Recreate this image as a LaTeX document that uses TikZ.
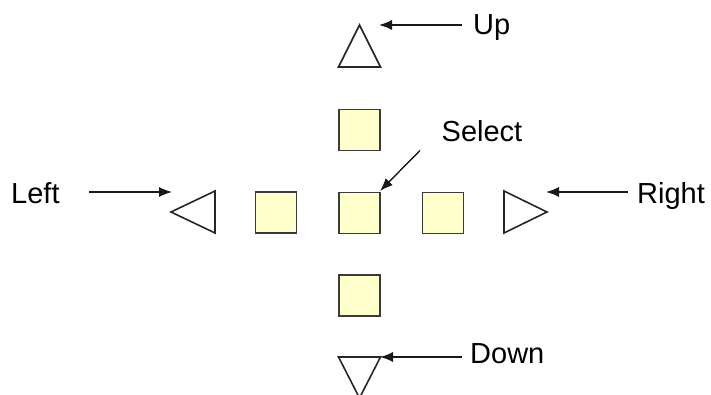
\documentclass[tikz,border=0pt]{standalone}
\usepackage{fontspec}
\setmainfont{Liberation Sans}
\usetikzlibrary{arrows.meta}
\definecolor{keyfill}{HTML}{FFFFCC}
\definecolor{keyedge}{HTML}{3A3A3A}
\begin{document}
\begin{tikzpicture}[x=1pt,y=-1pt,
  keybox/.style={draw=keyedge, fill=keyfill, line width=1.6pt, minimum size=41pt, inner sep=0pt},
  tri/.style={draw=black!85, line width=1.6pt, line join=miter},
  lbl/.style={font=\fontsize{29}{35}\selectfont, inner sep=0pt, anchor=base west, text=black},
  arr/.style={line width=1.4pt, draw=black!90, -{Latex[length=13pt,width=10pt]}}]
\useasboundingbox (0,0) rectangle (711,395);
% keys
\node[keybox] (sqT) at (359.5,130) {};
\node[keybox] (sqC) at (359.5,213) {};
\node[keybox] (sqL) at (276,212.5) {};
\node[keybox] (sqR) at (443,213) {};
\node[keybox] (sqB) at (359.5,295.5) {};
% triangles
\draw[tri] (359.5,25) -- (338.5,67) -- (380.5,67) -- cycle;
\draw[tri] (171,212) -- (215,191) -- (215,233) -- cycle;
\draw[tri] (547,212) -- (504,191) -- (504,233) -- cycle;
\draw[tri] (338.5,357) -- (380.5,357) -- (359.5,398) -- cycle;
% labels
\node[lbl] (upL) at (473,35) {Up};
\node[lbl] (leftL) at (11,204) {Left};
\node[lbl] (rightL) at (637,204) {Right};
\node[lbl] (selL) at (441.5,142) {Select};
\node[lbl] (downL) at (470,363) {Down};
% arrow tips
\coordinate (upTip) at (379,25);
\coordinate (leftTip) at (172,192);
\coordinate (rightTip) at (546,192);
\coordinate (selTip) at (380,191);
\coordinate (downTip) at (380,357);
\coordinate (leftStart) at (89,192);
% arrows
\draw[arr] ([xshift=-11pt]upL.west |- upTip) -- (upTip);
\draw[arr] (leftStart) -- (leftTip);
\draw[arr] ([xshift=-9pt]rightL.west |- rightTip) -- (rightTip);
\draw[arr] ([xshift=-21.5pt,yshift=-8pt]selL.south west) -- (selTip);
\draw[arr] ([xshift=-8pt]downL.west |- downTip) -- (downTip);
\end{tikzpicture}
\end{document}
